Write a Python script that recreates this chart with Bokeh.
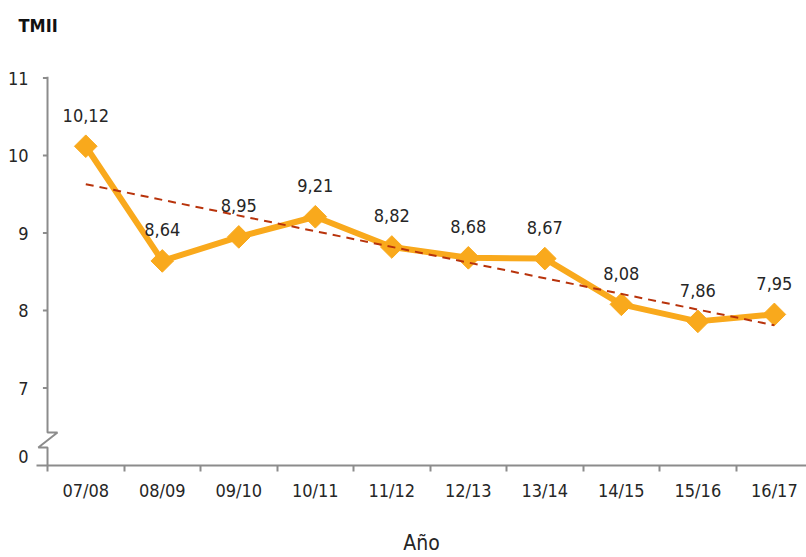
import numpy as np
from bokeh.plotting import figure
from bokeh.models import FixedTicker, ColumnDataSource, Range1d
from bokeh.core.properties import value
from bokeh.embed import file_html
from bokeh.resources import INLINE

# ---- data ----
years = ["07/08", "08/09", "09/10", "10/11", "11/12", "12/13", "13/14", "14/15", "15/16", "16/17"]
tmii = [10.12, 8.64, 8.95, 9.21, 8.82, 8.68, 8.67, 8.08, 7.86, 7.95]
trend_ends = [9.63, 7.81]          # dashed trend line, first and last category
y_ticks = [7, 8, 9, 10, 11]
y_zero_pos = 6.12                  # where the "0" label of the broken axis sits

FONT = "DejaVu Sans Condensed"
ORANGE = "#F9A91C"
GRAY = "#8C8C8C"
TXT = "#262626"

xs = list(range(len(years)))
labels = [f"{v:.2f}".replace(".", ",") for v in tmii]
src = ColumnDataSource(dict(x=xs, y=tmii, label=labels))

p = figure(width=806, height=557, output_backend="svg", toolbar_location=None,
           x_range=Range1d(-0.644, 9.42), y_range=Range1d(6, 11.02),
           min_border_left=36, min_border_right=0, min_border_top=76, min_border_bottom=91)
p.outline_line_color = None
p.grid.grid_line_color = None
p.background_fill_color = "white"
p.border_fill_color = "white"

# title (top-left)
p.title.text = "TMII\n "
p.title.text_font = FONT
p.title.text_font_size = "18px"
p.title.text_font_style = "bold"
p.title.text_color = "#111111"
p.title.text_line_height = 1.15
p.title.align = "left"
p.title.vertical_align = "top"
p.title.offset = -18
p.title.standoff = 29

# x axis
p.xaxis.ticker = FixedTicker(ticks=[float(i) for i in xs],
                             minor_ticks=[i - 0.5 for i in range(len(years) + 1)])
p.xaxis.major_label_overrides = {float(i): years[i] for i in xs}
p.xaxis.major_tick_line_color = None
p.xaxis.major_tick_out = 0
p.xaxis.major_tick_in = 0
p.xaxis.minor_tick_out = 6
p.xaxis.minor_tick_in = 0
p.xaxis.minor_tick_line_color = GRAY
p.xaxis.minor_tick_line_width = 2
p.xaxis.axis_line_color = GRAY
p.xaxis.axis_line_width = 2
p.xaxis.major_label_text_font = FONT
p.xaxis.major_label_text_font_size = "18px"
p.xaxis.major_label_text_color = TXT
p.xaxis.major_label_standoff = 8
p.xaxis.axis_label = "Año"
p.xaxis.axis_label_text_font = FONT
p.xaxis.axis_label_text_font_size = "21px"
p.xaxis.axis_label_text_font_style = "normal"
p.xaxis.axis_label_text_color = TXT
p.xaxis.axis_label_standoff = 27

# y axis (labels only; line, ticks and break drawn below)
p.yaxis.ticker = FixedTicker(ticks=[y_zero_pos] + [float(t) for t in y_ticks])
p.yaxis.major_label_overrides = {y_zero_pos: "0"}
p.yaxis.axis_line_color = None
p.yaxis.major_tick_line_color = None
p.yaxis.minor_tick_line_color = None
p.yaxis.major_tick_out = 0
p.yaxis.major_tick_in = 0
p.yaxis.major_label_text_font = FONT
p.yaxis.major_label_text_font_size = "18px"
p.yaxis.major_label_text_color = TXT
p.yaxis.major_label_standoff = 8

# y-axis line with break marker
axis_x = -0.5
p.line([axis_x, axis_x, -0.37, -0.62, axis_x, axis_x],
       [11.02, 6.425, 6.425, 6.232, 6.232, 6.0],
       line_color=GRAY, line_width=2)
p.segment(x0=[-0.56] * len(y_ticks), y0=y_ticks, x1=[axis_x] * len(y_ticks), y1=y_ticks,
          line_color=GRAY, line_width=2)

# series
p.line("x", "y", source=src, line_color=ORANGE, line_width=6, line_join="round")
p.scatter("x", "y", source=src, marker="square", angle=np.pi / 4, size=16,
          fill_color=ORANGE, line_color=ORANGE)
p.line([xs[0], xs[-1]], trend_ends, line_color="#B8330B", line_width=2, line_dash="8 6")

p.text("x", "y", text="label", source=src, text_align="center", text_baseline="alphabetic",
       y_offset=-31, text_font=value(FONT), text_font_size="18px", text_color=TXT)

open("out.html", "w").write(file_html(p, INLINE))
